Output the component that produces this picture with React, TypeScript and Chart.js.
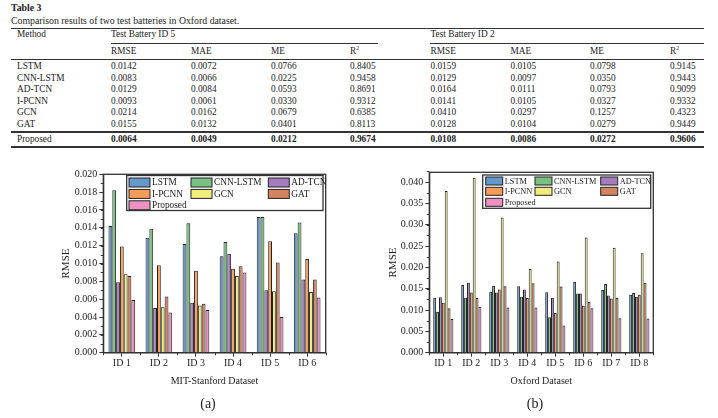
import React, { useEffect, useRef } from 'react';
import { Chart, registerables } from 'chart.js';
Chart.register(...registerables);

const FONT = '"Liberation Serif", "Times New Roman", serif';

// ---------- table data ----------
const tableMethods = ['LSTM', 'CNN-LSTM', 'AD-TCN', 'I-PCNN', 'GCN', 'GAT'];
const metricNames = ['RMSE', 'MAE', 'ME', 'R'];
const b5RMSE = [0.0142, 0.0083, 0.0129, 0.0093, 0.0214, 0.0155];
const b5MAE = [0.0072, 0.0066, 0.0084, 0.0061, 0.0162, 0.0132];
const b5ME = [0.0766, 0.0225, 0.0593, 0.0330, 0.0679, 0.0401];
const b5R2 = [0.8405, 0.9458, 0.8691, 0.9312, 0.6385, 0.8113];
const b2RMSE = [0.0159, 0.0129, 0.0164, 0.0141, 0.0410, 0.0128];
const b2MAE = [0.0105, 0.0097, 0.0111, 0.0105, 0.0297, 0.0104];
const b2ME = [0.0798, 0.0350, 0.0793, 0.0327, 0.1257, 0.0279];
const b2R2 = [0.9145, 0.9443, 0.9099, 0.9332, 0.4323, 0.9449];
const proposed5 = [0.0064, 0.0049, 0.0212, 0.9674];
const proposed2 = [0.0108, 0.0086, 0.0272, 0.9606];

// ---------- chart data ----------
const methods = ['LSTM', 'CNN-LSTM', 'AD-TCN', 'I-PCNN', 'GCN', 'GAT', 'Proposed'];
const mitIds = ['ID 1', 'ID 2', 'ID 3', 'ID 4', 'ID 5', 'ID 6'];
const mitLSTM = [0.0142, 0.0129, 0.0122, 0.0108, 0.0152, 0.0134];
const mitCNNLSTM = [0.0182, 0.0139, 0.0145, 0.0124, 0.0152, 0.0146];
const mitADTCN = [0.0079, 0.0050, 0.0056, 0.0111, 0.0070, 0.0082];
const mitIPCNN = [0.0119, 0.0098, 0.0092, 0.0094, 0.0125, 0.0105];
const mitGCN = [0.0088, 0.0051, 0.0053, 0.0086, 0.0069, 0.0068];
const mitGAT = [0.0086, 0.0063, 0.0055, 0.0097, 0.0101, 0.0082];
const mitProposed = [0.0059, 0.0045, 0.0048, 0.0090, 0.0040, 0.0062];

const oxIds = ['ID 1', 'ID 2', 'ID 3', 'ID 4', 'ID 5', 'ID 6', 'ID 7', 'ID 8'];
const oxLSTM = [0.0129, 0.0159, 0.0143, 0.0156, 0.0142, 0.0166, 0.0147, 0.0136];
const oxCNNLSTM = [0.0096, 0.0129, 0.0157, 0.0131, 0.0083, 0.0139, 0.0161, 0.0140];
const oxADTCN = [0.0130, 0.0164, 0.0141, 0.0148, 0.0129, 0.0139, 0.0134, 0.0131];
const oxIPCNN = [0.0117, 0.0141, 0.0148, 0.0128, 0.0093, 0.0110, 0.0127, 0.0136];
const oxGCN = [0.0379, 0.0410, 0.0317, 0.0196, 0.0214, 0.0270, 0.0246, 0.0233];
const oxGAT = [0.0104, 0.0128, 0.0156, 0.0163, 0.0155, 0.0119, 0.0128, 0.0164];
const oxProposed = [0.0079, 0.0108, 0.0106, 0.0106, 0.0064, 0.0104, 0.0081, 0.0080];

const colors = ['#6798CB', '#79C282', '#A67CBE', '#F79B58', '#F1EC7E', '#D3845E', '#EE91C2'];

const framePlugin = {
  id: 'frameMinor',
  afterDraw(chart: any, _args: any, opts: any) {
    const { ctx, chartArea: a } = chart;
    const ys = chart.scales.y;
    const xs = chart.scales.x;
    ctx.save();
    ctx.strokeStyle = '#333';
    ctx.lineWidth = 1;
    const n = Math.round(ys.max / opts.minorStep);
    for (let i = 1; i <= n; i++) {
      const py = Math.round(ys.getPixelForValue(i * opts.minorStep)) + 0.5;
      ctx.beginPath();
      ctx.moveTo(a.left - 2.5, py);
      ctx.lineTo(a.left, py);
      ctx.stroke();
    }
    const nc = chart.data.labels.length;
    for (let i = 0; i <= nc; i++) {
      const px = Math.round(xs.getPixelForValue(i - 0.5)) + 0.5;
      ctx.beginPath();
      ctx.moveTo(px, a.bottom);
      ctx.lineTo(px, a.bottom + 2.5);
      ctx.stroke();
    }
    ctx.lineWidth = 1.3;
    ctx.strokeStyle = '#333';
    ctx.strokeRect(a.left, a.top, a.right - a.left, a.bottom - a.top);
    ctx.restore();
  },
};

const legendPlugin = {
  id: 'gridLegend',
  afterDraw(chart: any, _args: any, o: any) {
    const { ctx, chartArea: a } = chart;
    const bx = a.left + o.x;
    const by = a.top + o.y;
    ctx.save();
    ctx.fillStyle = '#fff';
    ctx.fillRect(bx, by, o.w, o.h);
    ctx.lineWidth = 1.3;
    ctx.strokeStyle = '#333';
    ctx.strokeRect(bx, by, o.w, o.h);
    ctx.font = `${o.fs}px ${FONT}`;
    ctx.textBaseline = 'middle';
    chart.data.datasets.forEach((ds: any, i: number) => {
      const col = i % 3;
      const row = Math.floor(i / 3);
      const sx = bx + o.cols[col];
      const cy = by + o.rows[row];
      ctx.fillStyle = ds.backgroundColor;
      ctx.fillRect(sx, cy - o.sh / 2, o.sw, o.sh);
      ctx.lineWidth = 1;
      ctx.strokeStyle = '#222';
      ctx.strokeRect(sx, cy - o.sh / 2, o.sw, o.sh);
      ctx.fillStyle = '#222';
      ctx.fillText(ds.label, sx + o.sw + 2, cy + 0.5);
    });
    ctx.restore();
  },
};

type BarProps = {
  left: number; top: number; width: number; height: number;
  labels: string[]; series: number[][]; yMax: number; step: number; minorStep: number;
  yAxisWidth: number; padRight: number; padTop: number; xAxisHeight: number;
  yTitlePad: number; xTitle: string; legend: any; catPct: number;
};

function BarChart(p: BarProps) {
  const ref = useRef<HTMLCanvasElement>(null);
  useEffect(() => {
    const chart = new Chart(ref.current as HTMLCanvasElement, {
      type: 'bar',
      data: {
        labels: p.labels,
        datasets: methods.map((m, i) => ({
          label: m,
          data: p.series[i],
          backgroundColor: colors[i],
          borderColor: '#222',
          borderWidth: 1,
          categoryPercentage: p.catPct,
          barPercentage: 1,
        })),
      },
      options: {
        responsive: false,
        animation: false,
        devicePixelRatio: 1,
        layout: { padding: { left: 0, right: p.padRight, top: p.padTop, bottom: 0 } },
        plugins: {
          legend: { display: false },
          tooltip: { enabled: false },
          frameMinor: { minorStep: p.minorStep },
          gridLegend: p.legend,
        } as any,
        scales: {
          x: {
            grid: { display: true, drawOnChartArea: false, drawTicks: true, tickLength: 4, color: '#333', offset: false },
            border: { display: true, color: '#333', width: 1.3 },
            ticks: { color: '#222', font: { family: FONT, size: 10 }, padding: 1, maxRotation: 0 },
            title: { display: true, text: p.xTitle, color: '#222', font: { family: FONT, size: 10 }, padding: { top: 0, bottom: 13 } },
            afterFit: (s: any) => { s.height = p.xAxisHeight; },
          },
          y: {
            min: 0,
            max: p.yMax,
            grid: { display: true, drawOnChartArea: false, drawTicks: true, tickLength: 4, color: '#333' },
            border: { display: true, color: '#333', width: 1.3 },
            ticks: {
              stepSize: p.step,
              color: '#222',
              font: { family: FONT, size: 10 },
              padding: 2,
              callback: (v: any) => Number(v).toFixed(3),
            },
            afterBuildTicks: (s: any) => {
              const out: any[] = [];
              const k = Math.floor(p.yMax / p.step + 1e-9);
              for (let i = 0; i <= k; i++) out.push({ value: i * p.step });
              s.ticks = out;
            },
            title: { display: true, text: 'RMSE', color: '#222', font: { family: FONT, size: 11 }, padding: { top: p.yTitlePad, bottom: 0 } },
            afterFit: (s: any) => { s.width = p.yAxisWidth; },
          },
        },
      } as any,
      plugins: [framePlugin, legendPlugin],
    });
    return () => chart.destroy();
  }, []);
  return (
    <canvas
      ref={ref}
      width={p.width}
      height={p.height}
      style={{ position: 'absolute', left: p.left, top: p.top, width: p.width, height: p.height }}
    />
  );
}

const SIZE = 9.3;
function Txt({ x, capTop, children, bold, size }: any) {
  const s = size || SIZE;
  return (
    <div
      style={{
        position: 'absolute', left: x, top: capTop - 0.175 * s, fontSize: s, lineHeight: 1,
        whiteSpace: 'nowrap', fontWeight: bold ? 'bold' : 'normal', color: '#222',
      }}
    >
      {children}
    </div>
  );
}
function Rule({ x1, x2, y, h }: any) {
  return <div style={{ position: 'absolute', left: x1, top: y, width: x2 - x1, height: h, background: '#333' }} />;
}

const colX = [111, 191, 271, 350, 430.5, 510.5, 590, 670];
const rowCap = [64, 75.5, 87, 98.5, 110, 121.3];

export default function App() {
  const rows = tableMethods.map((m, i) => [b5RMSE[i], b5MAE[i], b5ME[i], b5R2[i], b2RMSE[i], b2MAE[i], b2ME[i], b2R2[i]]);
  const propRow = [...proposed5, ...proposed2];
  const header = [...metricNames, ...metricNames];
  return (
    <div style={{ position: 'fixed', left: 0, top: 0, width: 718, height: 418, background: '#fff', fontFamily: FONT, overflow: 'hidden' }}>
      <Txt x={11} capTop={5} bold size={9.8}>Table 3</Txt>
      <Txt x={11} capTop={17.7} size={9.8}>Comparison results of two test batteries in Oxford dataset.</Txt>
      <Rule x1={11} x2={704} y={27.7} h={1.3} />
      <Txt x={17} capTop={32}>Method</Txt>
      <Txt x={111} capTop={32}>Test Battery ID 5</Txt>
      <Txt x={430.5} capTop={32}>Test Battery ID 2</Txt>
      <Rule x1={111} x2={378} y={43} h={0.8} />
      <Rule x1={430} x2={704} y={43} h={0.8} />
      {header.map((h, j) => (
        <Txt key={'h' + j} x={colX[j]} capTop={48.5}>
          {h === 'R' ? <span>R<sup style={{ fontSize: 5.5, verticalAlign: 'top', position: 'relative', top: -1 }}>2</sup></span> : h}
        </Txt>
      ))}
      <Rule x1={11} x2={704} y={59.3} h={1} />
      {rows.map((r, i) => (
        <React.Fragment key={'r' + i}>
          <Txt x={17} capTop={rowCap[i]}>{tableMethods[i]}</Txt>
          {r.map((v, j) => (
            <Txt key={j} x={colX[j]} capTop={rowCap[i]}>{v.toFixed(4)}</Txt>
          ))}
        </React.Fragment>
      ))}
      <Rule x1={11} x2={704} y={131.3} h={1.3} />
      <Txt x={17} capTop={136.5}>Proposed</Txt>
      {propRow.map((v, j) => (
        <Txt key={'p' + j} x={colX[j]} capTop={136.5} bold>{v.toFixed(4)}</Txt>
      ))}
      <Rule x1={11} x2={704} y={146.3} h={1.3} />

      <BarChart
        left={40} top={160} width={300} height={240}
        labels={mitIds}
        series={[mitLSTM, mitCNNLSTM, mitADTCN, mitIPCNN, mitGCN, mitGAT, mitProposed]}
        yMax={0.020} step={0.002} minorStep={0.001}
        yAxisWidth={63.3} padRight={14.3} padTop={14.3} xAxisHeight={47.3}
        yTitlePad={19.4} xTitle="MIT-Stanford Dataset" catPct={0.72}
        legend={{ x: 23.4, y: 1.2, w: 196.3, h: 35, cols: [2.3, 64.3, 141.6], rows: [7, 18.4, 29.8], sw: 21, sh: 9, fs: 9.3 }}
      />
      <BarChart
        left={372} top={160} width={310} height={240}
        labels={oxIds}
        series={[oxLSTM, oxCNNLSTM, oxADTCN, oxIPCNN, oxGCN, oxGAT, oxProposed]}
        yMax={0.0423} step={0.005} minorStep={0.0025}
        yAxisWidth={57.3} padRight={28.7} padTop={12.3} xAxisHeight={47.3}
        yTitlePad={14.4} xTitle="Oxford Dataset" catPct={0.72}
        legend={{ x: 53.4, y: 2.7, w: 168, h: 33.3, cols: [3, 52.3, 118], rows: [6, 16.3, 27.3], sw: 17, sh: 8, fs: 8.3 }}
      />
      <div style={{ position: 'absolute', left: 208, top: 404, transform: 'translate(-50%,-50%)', fontSize: 14, lineHeight: 1, color: '#222' }}>(a)</div>
      <div style={{ position: 'absolute', left: 535, top: 404, transform: 'translate(-50%,-50%)', fontSize: 14, lineHeight: 1, color: '#222' }}>(b)</div>
    </div>
  );
}
